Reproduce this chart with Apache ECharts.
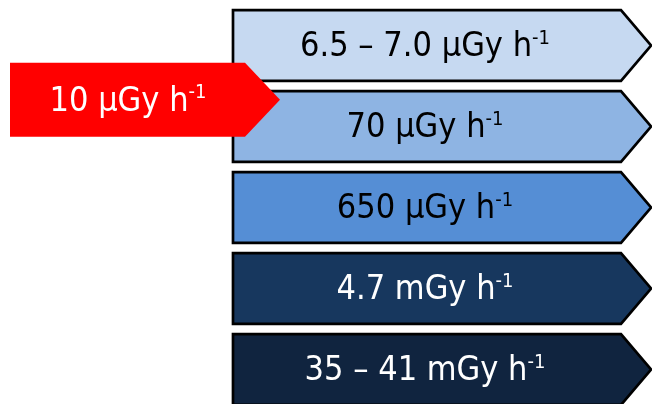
<!DOCTYPE html>
<html>
<head>
<meta charset="utf-8">
<script src="https://cdn.jsdelivr.net/npm/echarts@6/dist/echarts.min.js"></script>
<style>
  html, body { margin: 0; padding: 0; background: #fff; }
  #chart { width: 652px; height: 404px; }
</style>
</head>
<body>
<div id="chart"></div>
<script>
// dose-rate levels, top to bottom
const levelRanks = [0, 1, 2, 3, 4];
const levelValues = ["6.5 – 7.0", "70", "650", "4.7", "35 – 41"];
const levelUnits = ["μGy", "μGy", "μGy", "mGy", "mGy"];

// reference marker, placed between the first two levels
const markerRanks = [0.67];
const markerValues = ["10"];
const markerUnits = ["μGy"];

const levelColors = ["#C6D9F1", "#8EB4E3", "#558ED5", "#17375E", "#10243F"];
const levelTextColors = ["#000", "#000", "#000", "#fff", "#fff"];
const FONT = '"DejaVu Sans Condensed", "DejaVu Sans", sans-serif';

function labelText(value, unit) {
  return value + " " + unit + " h{sup|-1}";
}

// pentagon arrow: rectangle x0..xr, point at xt
function arrowShape(api, rank, x0, xr, xt, half) {
  let p = function (x, r) { return api.coord([x, r]); };
  return [
    p(x0, rank - half),
    p(xr, rank - half),
    p(xt, rank),
    p(xr, rank + half),
    p(x0, rank + half),
  ];
}

function textEl(api, x, rank, text, color) {
  let c = api.coord([x, rank]);
  return {
    type: "text",
    style: {
      x: c[0],
      y: c[1] + 2,
      text: text,
      align: "center",
      verticalAlign: "middle",
      fill: color,
      fontSize: 34,
      fontFamily: FONT,
      rich: {
        sup: { fontSize: 20, fontFamily: FONT, fill: color, padding: [0, 0, 18, 0] },
      },
    },
  };
}

let chart = echarts.init(document.getElementById("chart"));
chart.setOption({
  animation: false,
  grid: { left: 0, right: 0, top: 0, bottom: 0 },
  xAxis: { type: "value", min: 0, max: 652, show: false },
  yAxis: { type: "value", min: -0.5617, max: 4.4259, inverse: true, show: false },
  series: [
    {
      type: "custom",
      data: levelRanks.map(function (r) { return [r]; }),
      encode: { y: 0 },
      renderItem: function (params, api) {
        let i = params.dataIndex;
        let rank = api.value(0);
        return {
          type: "group",
          children: [
            {
              type: "polygon",
              shape: { points: arrowShape(api, rank, 233, 621, 651, 0.437) },
              style: { fill: levelColors[i], stroke: "#000", lineWidth: 2.7, lineJoin: "miter" },
            },
            textEl(api, 425, rank, labelText(levelValues[i], levelUnits[i]), levelTextColors[i]),
          ],
        };
      },
      z: 1,
    },
    {
      type: "custom",
      data: markerRanks.map(function (r) { return [r]; }),
      encode: { y: 0 },
      renderItem: function (params, api) {
        let i = params.dataIndex;
        let rank = api.value(0);
        return {
          type: "group",
          children: [
            {
              type: "polygon",
              shape: { points: arrowShape(api, rank, 10, 245, 280, 0.457) },
              style: { fill: "#FF0000" },
            },
            textEl(api, 128, rank, labelText(markerValues[i], markerUnits[i]), "#fff"),
          ],
        };
      },
      z: 2,
    },
  ],
});
</script>
</body>
</html>
